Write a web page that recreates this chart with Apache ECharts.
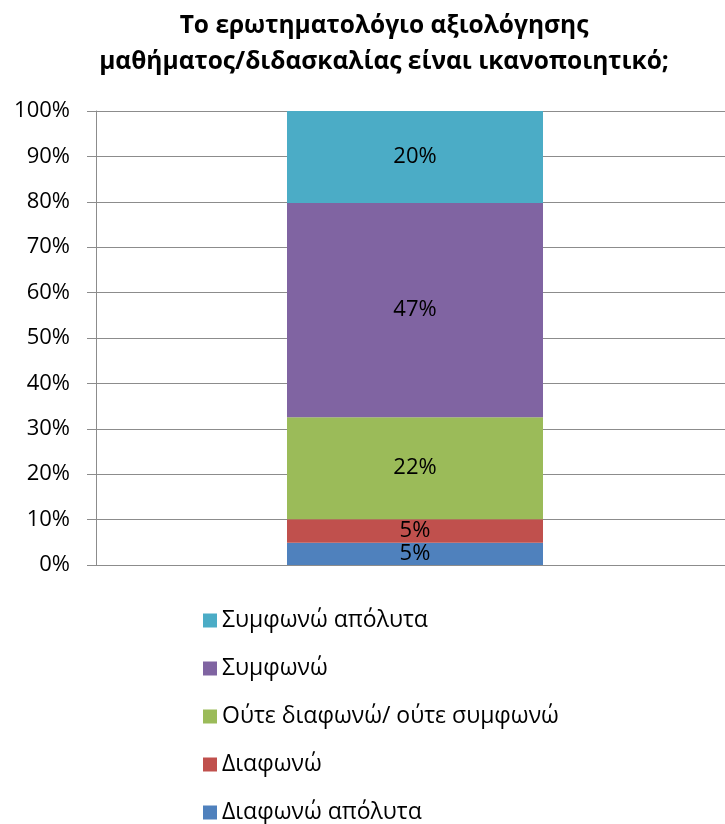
<!DOCTYPE html>
<html>
<head>
<meta charset="utf-8">
<script src="https://cdn.jsdelivr.net/npm/echarts@6/dist/echarts.min.js"></script>
<style>html,body{margin:0;padding:0;background:#fff;overflow:hidden}#wrap{width:725px;height:824px;overflow:hidden;position:relative}#c{width:745px;height:824px}</style>
</head>
<body>
<div id="wrap"><div id="c"></div></div>
<script>
const categories = [''];
const seriesNames = ['Διαφωνώ απόλυτα', 'Διαφωνώ', 'Ούτε διαφωνώ/ ούτε συμφωνώ', 'Συμφωνώ', 'Συμφωνώ απόλυτα'];
const seriesValues = [[4.9], [5.2], [22.45], [47.2], [20.25]];
const seriesColors = ['#4F81BD', '#C0504D', '#9BBB59', '#8064A2', '#4BACC6'];
const legendOrder = ['Συμφωνώ απόλυτα', 'Συμφωνώ', 'Ούτε διαφωνώ/ ούτε συμφωνώ', 'Διαφωνώ', 'Διαφωνώ απόλυτα'];
const titleText = 'Το ερωτηματολόγιο αξιολόγησης\nμαθήματος/διδασκαλίας είναι ικανοποιητικό;';

const FONT = '"Open Sans", "Noto Sans", sans-serif';
const chart = echarts.init(document.getElementById('c'));
chart.setOption({
  animation: false,
  backgroundColor: '#fff',
  title: {
    text: titleText,
    left: 379,
    textAlign: 'center',
    top: 3,
    textStyle: { fontFamily: FONT, fontSize: 24.5, fontWeight: 'bold', color: '#000', lineHeight: 36 }
  },
  legend: {
    orient: 'vertical',
    left: 198,
    top: 604,
    height: 230,
    data: legendOrder,
    icon: 'rect',
    itemWidth: 14,
    itemHeight: 14,
    itemGap: 25,
    textStyle: { fontFamily: FONT, fontSize: 23, color: '#000' }
  },
  grid: { left: 96, top: 111, bottom: 259, right: 11 },
  xAxis: {
    type: 'category',
    data: categories,
    axisLine: { show: false },
    axisTick: { show: false },
    axisLabel: { show: false }
  },
  yAxis: {
    type: 'value',
    min: 0, max: 100, interval: 10,
    axisLine: { show: true, lineStyle: { color: '#8c8c8c', width: 1 } },
    axisTick: { show: true, length: 9, lineStyle: { color: '#8c8c8c' } },
    splitLine: { lineStyle: { color: '#8c8c8c', width: 1 } },
    axisLabel: { formatter: '{value}%', fontFamily: FONT, fontSize: 22, color: '#000', margin: 26 }
  },
  series: seriesNames.map((n, i) => ({
    name: n,
    type: 'bar',
    stack: 'all',
    barWidth: 256,
    data: seriesValues[i],
    itemStyle: { color: seriesColors[i] },
    label: {
      show: true,
      position: 'inside',
      formatter: p => Math.round(p.value) + '%',
      fontFamily: FONT, fontSize: 22, color: '#000'
    }
  }))
});
</script>
</body>
</html>
